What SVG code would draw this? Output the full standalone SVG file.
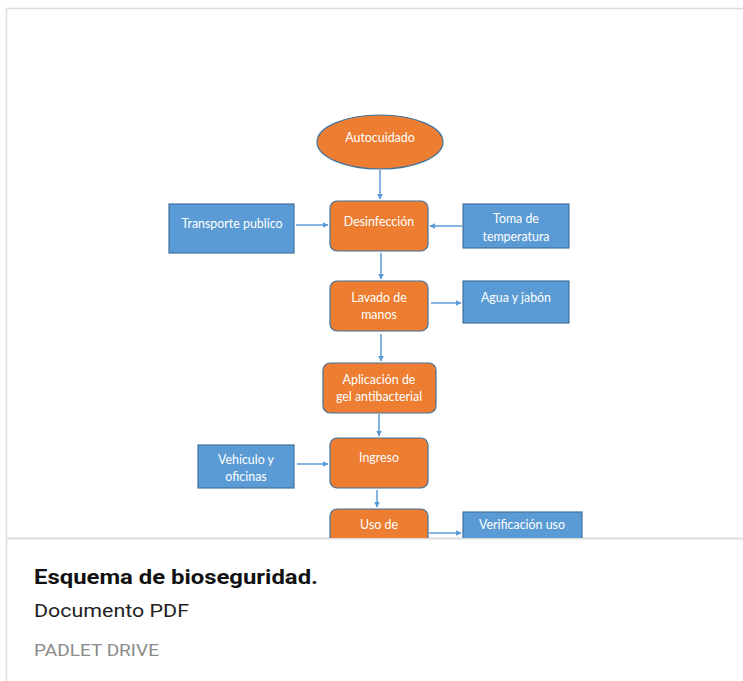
<svg xmlns="http://www.w3.org/2000/svg" width="743" height="681" viewBox="0 0 743 681">
<defs>
<style>
.o{fill:#ED7D31;stroke:#41719C;stroke-width:1.2}
.b{fill:#5B9BD5;stroke:#41719C;stroke-width:1.2}
.t{font-family:Lato,"Open Sans",sans-serif;font-size:12.4px;fill:#ffffff;text-anchor:middle}
.c{stroke:#5B9BD5;stroke-width:1.5;fill:none;marker-end:url(#ah)}
.card{fill:none;stroke:#dddddd;stroke-width:1.5}
</style>
<marker id="ah" viewBox="0 0 10 10" refX="9" refY="5" markerWidth="6" markerHeight="6" orient="auto" markerUnits="userSpaceOnUse">
<path d="M0,0 L10,5 L0,10 z" fill="#5B9BD5"/>
</marker>
<clipPath id="clip"><rect x="0" y="0" width="743" height="538"/></clipPath>
</defs>
<rect width="743" height="681" fill="#ffffff"/>
<g id="card">
<rect class="card" x="6.5" y="8.5" width="760" height="700"/>
<line x1="6" y1="538.5" x2="743" y2="538.5" stroke="#dddddd" stroke-width="2"/>
</g>
<g clip-path="url(#clip)">
<g id="connectors">
<line class="c" x1="380" y1="170" x2="380" y2="199"/>
<line class="c" x1="296" y1="225" x2="328" y2="225"/>
<line class="c" x1="462" y1="226" x2="430" y2="226"/>
<line class="c" x1="381" y1="253" x2="381" y2="279"/>
<line class="c" x1="431" y1="303" x2="461" y2="303"/>
<line class="c" x1="381" y1="334" x2="381" y2="361"/>
<line class="c" x1="379" y1="414" x2="379" y2="436"/>
<line class="c" x1="297" y1="464" x2="328" y2="464"/>
<line class="c" x1="377" y1="490" x2="377" y2="507"/>
<line class="c" x1="429" y1="533" x2="461" y2="533"/>
</g>
<g id="autocuidado">
<ellipse class="o" cx="380" cy="142" rx="63" ry="27"/>
<text class="t" x="380" y="142">Autocuidado</text>
</g>
<g id="desinfeccion">
<rect class="o" x="330" y="201" width="98" height="50" rx="7"/>
<text class="t" x="379" y="226">Desinfección</text>
</g>
<g id="transporte">
<rect class="b" x="169" y="204" width="125" height="49"/>
<text class="t" x="232" y="228">Transporte publico</text>
</g>
<g id="toma">
<rect class="b" x="463" y="204" width="106" height="44"/>
<text class="t" x="516" y="223">Toma de</text>
<text class="t" x="516" y="241">temperatura</text>
</g>
<g id="lavado">
<rect class="o" x="330" y="281" width="98" height="50" rx="7"/>
<text class="t" x="379" y="302">Lavado de</text>
<text class="t" x="379" y="319">manos</text>
</g>
<g id="agua">
<rect class="b" x="463" y="281" width="106" height="42"/>
<text class="t" x="516" y="302">Agua y jabón</text>
</g>
<g id="aplicacion">
<rect class="o" x="323" y="363" width="113" height="50" rx="7"/>
<text class="t" x="379" y="384">Aplicación de</text>
<text class="t" x="379" y="401">gel antibacterial</text>
</g>
<g id="ingreso">
<rect class="o" x="330" y="438" width="98" height="50" rx="7"/>
<text class="t" x="379" y="462">Ingreso</text>
</g>
<g id="vehiculo">
<rect class="b" x="198" y="445" width="96" height="43"/>
<text class="t" x="246" y="464">Vehículo y</text>
<text class="t" x="246" y="481">oficinas</text>
</g>
<g id="uso">
<rect class="o" x="330" y="509" width="98" height="50" rx="7"/>
<text class="t" x="379" y="529">Uso de</text>
</g>
<g id="verificacion">
<rect class="b" x="463" y="512" width="119" height="40"/>
<text class="t" x="522" y="529">Verificación uso</text>
</g>
</g>
<g id="caption" font-family="Roboto,sans-serif">
<text x="34" y="584" font-size="21" font-weight="bold" fill="#111111" textLength="284" lengthAdjust="spacingAndGlyphs">Esquema de bioseguridad.</text>
<text x="34" y="617" font-size="19" fill="#222222" textLength="155" lengthAdjust="spacingAndGlyphs">Documento PDF</text>
<text x="34" y="656" font-size="17" fill="#8a8a8a" textLength="125" lengthAdjust="spacingAndGlyphs">PADLET DRIVE</text>
</g>
</svg>
